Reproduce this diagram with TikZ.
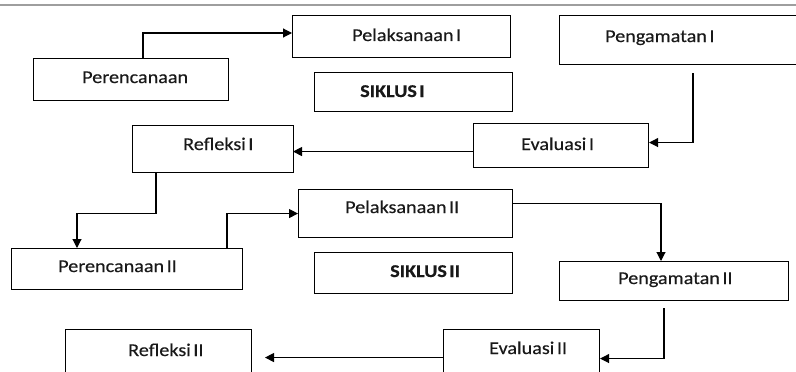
\documentclass[tikz,border=0pt]{standalone}
\usepackage{fontspec}
\setmainfont{Carlito}[FakeStretch=1.12, WordSpace=0.55, FakeBold=0.3]
\usetikzlibrary{arrows.meta}
\begin{document}
\begin{tikzpicture}[x=1pt,y=-1pt,
  box/.style={draw=black, line width=1.1pt, rectangle, inner sep=0pt, anchor=north west},
  lbl/.style={anchor=base west, inner sep=0pt, font=\fontsize{18pt}{20pt}\selectfont, text=black!90},
  arr/.style={draw=black, line width=1.1pt, -{Triangle[length=9pt,width=9pt]}}]
\useasboundingbox (0,0) rectangle (796,372);
\clip (0,0) rectangle (796,372);
\fill[white] (0,0) rectangle (796,372);
\draw[line width=2pt, draw=black!38] (0,5) -- (796,5);
% boxes
\node[box, minimum width=218pt, minimum height=42pt] (pel1) at (292,15) {};
\node[box, minimum width=195pt, minimum height=42pt] (per) at (33,58) {};
\node[box, minimum width=198pt, minimum height=39pt] (sik1) at (314,72) {};
\node[box, minimum width=240pt, minimum height=49pt] (peng1) at (559,15) {};
\node[box, minimum width=161pt, minimum height=47pt] (ref1) at (132,125) {};
\node[box, minimum width=175pt, minimum height=44pt] (eva1) at (473,123) {};
\node[box, minimum width=214pt, minimum height=48pt] (pel2) at (298,189) {};
\node[box, minimum width=198pt, minimum height=41pt] (sik2) at (314,252) {};
\node[box, minimum width=231pt, minimum height=41pt] (per2) at (11,248) {};
\node[box, minimum width=229pt, minimum height=39pt] (peng2) at (559,261) {};
\node[box, minimum width=186pt, minimum height=60pt] (ref2) at (65,329) {};
\node[box, minimum width=156pt, minimum height=60pt] (eva2) at (443,329) {};
% labels
\node[lbl] (tpel1) at (352,41) {Pelaksanaan I};
\node[lbl] (tper) at (82,83) {Perencanaan};
\node[lbl, font=\fontsize{18pt}{20pt}\selectfont\bfseries] (tsik1) at (360,97) {SIKLUS I};
\node[lbl] (tpeng1) at (605,42) {Pengamatan I};
\node[lbl] (tref1) at (183,150) {Refleksi I};
\node[lbl] (teva1) at (521,150) {Evaluasi I};
\node[lbl] (tpel2) at (345,213) {Pelaksanaan II};
\node[lbl, font=\fontsize{18pt}{20pt}\selectfont\bfseries] (tsik2) at (390,277) {SIKLUS II};
\node[lbl] (tper2) at (58,272) {Perencanaan II};
\node[lbl] (tpeng2) at (618,284) {Pengamatan II};
\node[lbl] (tref2) at (128,356) {Refleksi II};
\node[lbl] (teva2) at (489,354) {Evaluasi II};
% connectors
\draw[arr] ([xshift=110pt]per.north west) |- ([yshift=-18pt]pel1.north west);
\draw[arr] ([shift={(134pt,-8pt)}]peng1.south west) |- ([yshift=3pt]eva1.east);
\draw[arr] ([yshift=-6pt]eva1.west) -- ++(-180,0);
\draw[arr] ([xshift=24pt]ref1.south west) -- ++(0,40) -| ([xshift=66pt]per2.north west);
\draw[arr] ([xshift=216pt]per2.north west) |- (pel2.west);
\draw[arr] ([yshift=10pt]pel2.east) -| ([xshift=102pt]peng2.north west);
\draw[arr] ([shift={(105pt,-7pt)}]peng2.south west) |- ([yshift=1pt]eva2.east);
\draw[arr] ([yshift=2pt]eva2.west) -- ++(-178,0);
\end{tikzpicture}
\end{document}
